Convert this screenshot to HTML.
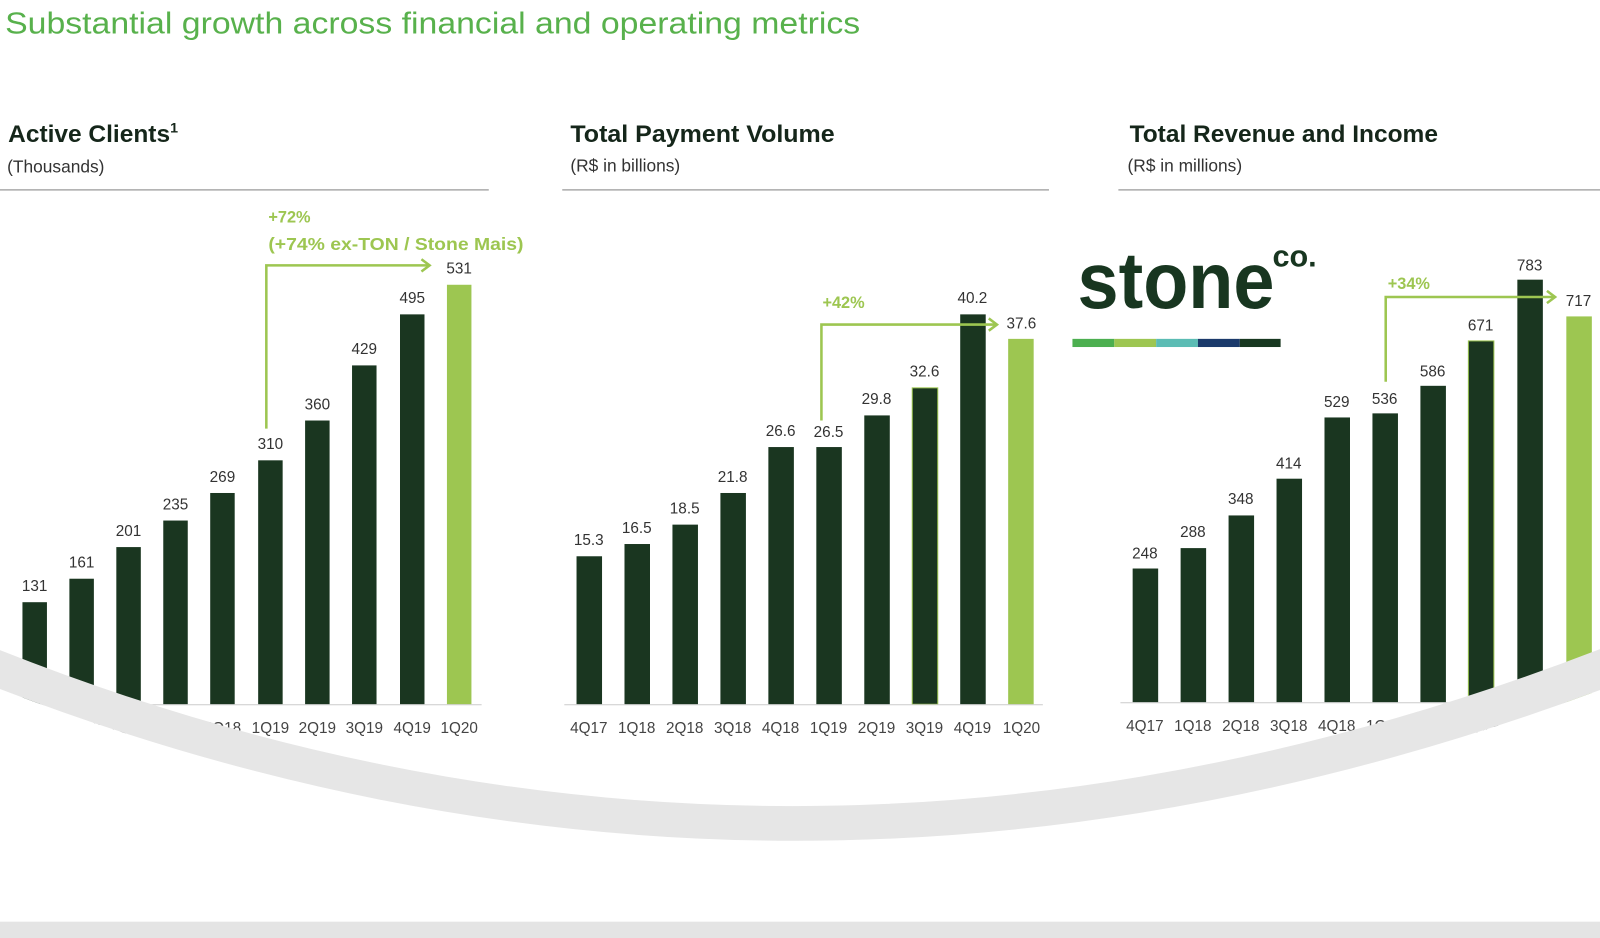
<!DOCTYPE html>
<html><head><meta charset="utf-8"><style>
html,body{margin:0;padding:0;background:#fff;}
svg{display:block;}
text{font-family:"Liberation Sans",sans-serif;}
</style></head><body>
<svg width="1600" height="938" viewBox="0 0 1568 919" preserveAspectRatio="none" xmlns="http://www.w3.org/2000/svg">
<rect width="1568" height="919" fill="#fff"/>
<text x="5" y="33" font-size="30" fill="#58b14c" textLength="838" lengthAdjust="spacingAndGlyphs">Substantial growth across financial and operating metrics</text>

<g fill="#15261a">
<text x="8" y="139" font-size="24" font-weight="bold">Active Clients<tspan font-size="14" dy="-9">1</tspan></text>
<text x="7" y="169" font-size="17" fill="#333">(Thousands)</text>
<text x="559" y="139" font-size="24" font-weight="bold" textLength="259" lengthAdjust="spacingAndGlyphs">Total Payment Volume</text>
<text x="559" y="168" font-size="17" fill="#333">(R$ in billions)</text>
<text x="1107" y="139" font-size="24" font-weight="bold">Total Revenue and Income</text>
<text x="1105" y="168" font-size="17" fill="#333">(R$ in millions)</text>
</g>
<g stroke="#aaa" stroke-width="1.5">
<line x1="0" y1="186" x2="479" y2="186"/>
<line x1="551" y1="186" x2="1028" y2="186"/>
<line x1="1096" y1="186" x2="1568" y2="186"/>
</g>

<g fill="#1a3620">
<rect x="22" y="590" width="24" height="100"/>
<rect x="68" y="567" width="24" height="123"/>
<rect x="114" y="536" width="24" height="154"/>
<rect x="160" y="510" width="24" height="180"/>
<rect x="206" y="483" width="24" height="207"/>
<rect x="253" y="451" width="24" height="239"/>
<rect x="299" y="412" width="24" height="278"/>
<rect x="345" y="358" width="24" height="332"/>
<rect x="392" y="308" width="24" height="382"/>
</g>
<rect x="438" y="279" width="24" height="411" fill="#9dc651"/>
<line x1="0" y1="690.5" x2="472" y2="690.5" stroke="#ccc" stroke-width="1"/>
<g font-size="15" fill="#333" text-anchor="middle">
<text x="34" y="579">131</text><text x="80" y="556">161</text><text x="126" y="525">201</text>
<text x="172" y="499">235</text><text x="218" y="472">269</text><text x="265" y="440">310</text>
<text x="311" y="401">360</text><text x="357" y="347">429</text><text x="404" y="297">495</text>
<text x="450" y="268">531</text>
</g>
<g font-size="15" fill="#444" text-anchor="middle">
<text x="34" y="718">4Q17</text><text x="80" y="718">1Q18</text><text x="126" y="718">2Q18</text>
<text x="172" y="718">3Q18</text><text x="218" y="718">4Q18</text><text x="265" y="718">1Q19</text>
<text x="311" y="718">2Q19</text><text x="357" y="718">3Q19</text><text x="404" y="718">4Q19</text>
<text x="450" y="718">1Q20</text>
</g>
<g stroke="#9dc651" stroke-width="2.5" fill="none">
<polyline points="261,420 261,260 421,260"/>
<polyline points="413,254 421,260 413,266"/>
</g>
<text x="263" y="218" font-size="16" fill="#9dc651" font-weight="bold">+72%</text>
<text x="263" y="245" font-size="17" fill="#9dc651" font-weight="bold" textLength="250" lengthAdjust="spacingAndGlyphs">(+74% ex-TON / Stone Mais)</text>

<g fill="#1a3620">
<rect x="565" y="545" width="25" height="145"/>
<rect x="612" y="533" width="25" height="157"/>
<rect x="659" y="514" width="25" height="176"/>
<rect x="706" y="483" width="25" height="207"/>
<rect x="753" y="438" width="25" height="252"/>
<rect x="800" y="438" width="25" height="252"/>
<rect x="847" y="407" width="25" height="283"/>
<rect x="894" y="380" width="25" height="310" stroke="#9dc651" stroke-width="1"/>
<rect x="941" y="308" width="25" height="382"/>
</g>
<rect x="988" y="332" width="25" height="358" fill="#9dc651"/>
<line x1="553" y1="690.5" x2="1022" y2="690.5" stroke="#ccc" stroke-width="1"/>
<g font-size="15" fill="#333" text-anchor="middle">
<text x="577" y="534">15.3</text><text x="624" y="522">16.5</text><text x="671" y="503">18.5</text>
<text x="718" y="472">21.8</text><text x="765" y="427">26.6</text><text x="812" y="428">26.5</text>
<text x="859" y="396">29.8</text><text x="906" y="369">32.6</text><text x="953" y="297">40.2</text>
<text x="1001" y="322">37.6</text>
</g>
<g font-size="15" fill="#444" text-anchor="middle">
<text x="577" y="718">4Q17</text><text x="624" y="718">1Q18</text><text x="671" y="718">2Q18</text>
<text x="718" y="718">3Q18</text><text x="765" y="718">4Q18</text><text x="812" y="718">1Q19</text>
<text x="859" y="718">2Q19</text><text x="906" y="718">3Q19</text><text x="953" y="718">4Q19</text>
<text x="1001" y="718">1Q20</text>
</g>
<g stroke="#9dc651" stroke-width="2.5" fill="none">
<polyline points="805,412 805,318 977,318"/>
<polyline points="969,312 977,318 969,324"/>
</g>
<text x="806" y="302" font-size="16" fill="#9dc651" font-weight="bold">+42%</text>

<text x="1056" y="302" font-size="78" font-weight="bold" fill="#183620" textLength="193" lengthAdjust="spacingAndGlyphs">stone</text>
<text x="1247" y="261" font-size="30" font-weight="bold" fill="#183620">co.</text>
<rect x="1051" y="332" width="41" height="8" fill="#4caf50"/>
<rect x="1092" y="332" width="41" height="8" fill="#9dc651"/>
<rect x="1133" y="332" width="41" height="8" fill="#5bbcb4"/>
<rect x="1174" y="332" width="41" height="8" fill="#1b3a6b"/>
<rect x="1215" y="332" width="40" height="8" fill="#183820"/>

<g fill="#1a3620">
<rect x="1110" y="557" width="25" height="131"/>
<rect x="1157" y="537" width="25" height="151"/>
<rect x="1204" y="505" width="25" height="183"/>
<rect x="1251" y="469" width="25" height="219"/>
<rect x="1298" y="409" width="25" height="279"/>
<rect x="1345" y="405" width="25" height="283"/>
<rect x="1392" y="378" width="25" height="310"/>
<rect x="1439" y="334" width="25" height="354" stroke="#9dc651" stroke-width="1"/>
<rect x="1487" y="274" width="25" height="414"/>
</g>
<rect x="1535" y="310" width="25" height="378" fill="#9dc651"/>
<line x1="1098" y1="688.5" x2="1568" y2="688.5" stroke="#ccc" stroke-width="1"/>
<g font-size="15" fill="#333" text-anchor="middle">
<text x="1122" y="547">248</text><text x="1169" y="526">288</text><text x="1216" y="494">348</text>
<text x="1263" y="459">414</text><text x="1310" y="399">529</text><text x="1357" y="396">536</text>
<text x="1404" y="369">586</text><text x="1451" y="324">671</text><text x="1499" y="265">783</text>
<text x="1547" y="300">717</text>
</g>
<g font-size="15" fill="#444" text-anchor="middle">
<text x="1122" y="716">4Q17</text><text x="1169" y="716">1Q18</text><text x="1216" y="716">2Q18</text>
<text x="1263" y="716">3Q18</text><text x="1310" y="716">4Q18</text><text x="1357" y="716">1Q19</text>
<text x="1404" y="716">2Q19</text><text x="1451" y="716">3Q19</text><text x="1499" y="716">4Q19</text>
<text x="1547" y="716">1Q20</text>
</g>
<g stroke="#9dc651" stroke-width="2.5" fill="none">
<polyline points="1358,374 1358,291 1524,291"/>
<polyline points="1516,285 1524,291 1516,297"/>
</g>
<text x="1360" y="283" font-size="16" fill="#9dc651" font-weight="bold">+34%</text>

<path d="M0,675 Q772,972 1568,676 L1568,919 L0,919 Z" fill="#fff"/>
<path d="M0,637 Q772,943 1568,636 L1568,676 Q772,972 0,675 Z" fill="#e6e6e6"/>
<rect x="0" y="903" width="1568" height="16" fill="#e4e4e4"/>
</svg>
</body></html>
